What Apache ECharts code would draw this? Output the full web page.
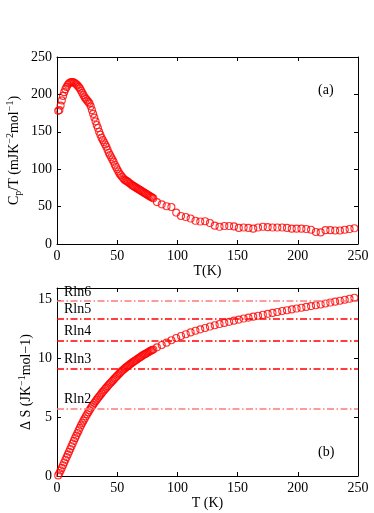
<!DOCTYPE html>
<html>
<head>
<meta charset="utf-8">
<title>Cp/T and entropy</title>
<script src="https://cdn.jsdelivr.net/npm/echarts@6.0.0/dist/echarts.min.js"></script>
<style>
  html, body { margin: 0; padding: 0; background: #fff; }
  #chart { width: 374px; height: 513px; }
</style>
</head>
<body>
<div id="chart"></div>
<script>
// temperature (K) of every measured point, dense below 80 K
const tempK = [
  1, 2, 3, 4, 5, 6, 7, 8, 9, 10, 11, 12, 13, 14, 15, 16, 17, 18, 19, 20,
  21, 22, 23, 24, 25, 26, 27, 28, 29, 30, 31, 32, 33, 34, 35, 36, 37, 38, 39, 40,
  41, 42, 43, 44, 45, 46, 47, 48, 49, 50, 51, 52, 53, 54, 55, 56, 57, 58, 59, 60,
  61, 62, 63, 64, 65, 66, 67, 68, 69, 70, 71, 72, 73, 74, 75, 76, 77, 78, 79, 80,
  83, 87, 91, 95, 99, 103, 107, 111, 115, 119, 123, 127, 131, 135, 139, 143, 147, 151, 155, 159,
  163, 167, 171, 175, 179, 183, 187, 191, 195, 199, 203, 207, 211, 215, 219, 223, 227, 231, 235, 239,
  243, 247
]
// Cp/T (mJ K^-2 mol^-1)
const cpOverT = [
  178, 179, 185, 192, 198, 203, 207, 210, 213, 215, 216, 216.5, 216.5, 216, 215, 213.5, 212, 210, 208, 205,
  202, 199, 196, 194, 192, 190, 188, 184, 179, 174, 169, 164, 159, 155, 150, 146, 142, 139, 136, 133,
  130, 126, 122, 119, 116, 113, 110, 106, 103, 100, 97, 94, 92, 90, 88, 86, 85, 84, 83, 81.5,
  80.5, 79, 78, 77, 76, 75, 74, 73, 72, 71, 70, 69, 68, 67, 66, 65, 64, 63, 62, 61,
  56, 53, 50.5, 49.5, 42, 37.5, 36, 34, 31, 30, 30.5, 28, 24.5, 23, 24, 24, 23.5, 21.5, 22, 21.5,
  20.5, 22, 23, 22.5, 22, 22, 22, 21.5, 20.5, 20.5, 20.5, 20, 19, 16, 15.5, 18.5, 18.5, 18, 18, 19,
  20, 21
]
// entropy Delta S (J K^-1 mol^-1)
const deltaS = [
  0.05, 0.25, 0.47, 0.69, 0.92, 1.15, 1.38, 1.61, 1.84, 2.07, 2.30, 2.53, 2.76, 2.99, 3.22, 3.44, 3.66, 3.88, 4.10, 4.31,
  4.51, 4.71, 4.90, 5.08, 5.26, 5.43, 5.60, 5.76, 5.91, 6.06, 6.21, 6.36, 6.50, 6.64, 6.77, 6.90, 7.03, 7.16, 7.28, 7.40,
  7.52, 7.64, 7.76, 7.87, 7.98, 8.09, 8.20, 8.31, 8.42, 8.53, 8.64, 8.75, 8.85, 8.95, 9.04, 9.13, 9.22, 9.30, 9.38, 9.46,
  9.54, 9.62, 9.69, 9.76, 9.83, 9.90, 9.97, 10.04, 10.11, 10.18, 10.25, 10.31, 10.37, 10.43, 10.49, 10.55, 10.61, 10.67, 10.72, 10.77,
  10.95, 11.15, 11.35, 11.55, 11.75, 11.92, 12.07, 12.22, 12.36, 12.48, 12.6, 12.72, 12.83, 12.93, 13.03, 13.12, 13.22, 13.31, 13.4, 13.48,
  13.56, 13.64, 13.72, 13.8, 13.88, 13.96, 14.04, 14.11, 14.18, 14.25, 14.32, 14.39, 14.46, 14.53, 14.6, 14.68, 14.76, 14.84, 14.92, 15.0,
  15.08, 15.17
]
// R ln(n) reference levels
const rlnNames = ['Rln2', 'Rln3', 'Rln4', 'Rln5', 'Rln6']
const rlnValues = [5.76, 9.13, 11.53, 13.38, 14.90]
// axis ticks
const tTicks = [0, 50, 100, 150, 200, 250]
const cpTicks = [0, 50, 100, 150, 200, 250]
const sTicks = [0, 5, 10, 15]
const sMax = 16

const FONT = 'Liberation Serif'
const RED = '#ff0000'
const PINK = '#ff7a7a'
const lightLines = ['Rln2', 'Rln6']

function axisCommon(ticks, max, extra) {
  return Object.assign({
    type: 'value',
    min: ticks[0],
    max: max,
    interval: ticks[1] - ticks[0],
    axisLine: { show: true, onZero: false, lineStyle: { color: '#000', width: 1 } },
    axisTick: { show: true, inside: true, length: 4, lineStyle: { color: '#000' } },
    splitLine: { show: false },
    axisLabel: { show: true, color: '#000', fontFamily: FONT, fontSize: 14, margin: 5 },
    nameTextStyle: { color: '#000', fontFamily: FONT, fontSize: 14 }
  }, extra)
}

function mirror(ticks, max, gridIndex, position) {
  return axisCommon(ticks, max, { gridIndex: gridIndex, position: position, axisLabel: { show: false } })
}

const pointStyle = { color: 'rgba(0,0,0,0)', borderColor: RED, borderWidth: 1.1 }

const chart = echarts.init(document.getElementById('chart'))
chart.setOption({
  animation: false,
  backgroundColor: '#fff',
  grid: [
    { left: 57, right: 16, top: 57, height: 187, outerBoundsMode: 'none', containLabel: false },
    { left: 57, right: 16, top: 288, height: 188, outerBoundsMode: 'none', containLabel: false }
  ],
  xAxis: [
    axisCommon(tTicks, tTicks[tTicks.length - 1], {
      gridIndex: 0, position: 'bottom', name: 'T(K)', nameLocation: 'middle', nameGap: 19
    }),
    mirror(tTicks, tTicks[tTicks.length - 1], 0, 'top'),
    axisCommon(tTicks, tTicks[tTicks.length - 1], {
      gridIndex: 1, position: 'bottom', name: 'T (K)', nameLocation: 'middle', nameGap: 18
    }),
    mirror(tTicks, tTicks[tTicks.length - 1], 1, 'top')
  ],
  yAxis: [
    axisCommon(cpTicks, cpTicks[cpTicks.length - 1], {
      gridIndex: 0, position: 'left', name: 'C{sub|p}/T (mJK{sup|−2}mol{sup|−1})',
      nameLocation: 'middle', nameGap: 34, nameMoveOverlap: false,
      nameTextStyle: {
        color: '#000', fontFamily: FONT, fontSize: 14, lineHeight: 18,
        rich: {
          sub: { fontFamily: FONT, fontSize: 10, lineHeight: 10, verticalAlign: 'bottom', color: '#000' },
          sup: { fontFamily: FONT, fontSize: 10, lineHeight: 10, verticalAlign: 'top', color: '#000' }
        }
      }
    }),
    mirror(cpTicks, cpTicks[cpTicks.length - 1], 0, 'right'),
    axisCommon(sTicks, sMax, {
      gridIndex: 1, position: 'left', name: 'Δ S (JK{sup|−1}mol−1)',
      nameLocation: 'middle', nameGap: 22, nameMoveOverlap: false,
      nameTextStyle: {
        color: '#000', fontFamily: FONT, fontSize: 14, lineHeight: 18,
        rich: {
          sup: { fontFamily: FONT, fontSize: 10, lineHeight: 10, verticalAlign: 'top', color: '#000' }
        }
      }
    }),
    mirror(sTicks, sMax, 1, 'right')
  ],
  graphic: [
    { type: 'text', left: 318, top: 83, style: { text: '(a)', font: '14px "Liberation Serif"', fill: '#000' } },
    { type: 'text', left: 318, top: 445, style: { text: '(b)', font: '14px "Liberation Serif"', fill: '#000' } }
  ],
  series: [
    {
      type: 'scatter',
      xAxisIndex: 0,
      yAxisIndex: 0,
      symbol: 'circle',
      symbolSize: 7,
      itemStyle: pointStyle,
      data: tempK.map((t, i) => [t, cpOverT[i]])
    },
    {
      type: 'scatter',
      xAxisIndex: 2,
      yAxisIndex: 2,
      symbol: 'circle',
      symbolSize: 7,
      itemStyle: pointStyle,
      data: tempK.map((t, i) => [t, deltaS[i]]),
      markLine: {
        silent: true,
        symbol: 'none',
        data: rlnNames.map((n, i) => ({
          name: n,
          yAxis: rlnValues[i],
          lineStyle: {
            color: lightLines.indexOf(n) >= 0 ? PINK : RED,
            width: 1.5,
            type: [7, 2.5, 1.5, 2.5],
            opacity: 1
          }
        })),
        label: {
          show: true,
          position: 'insideStartTop',
          formatter: '{b}',
          color: '#000',
          fontFamily: FONT,
          fontSize: 14,
          distance: [7, 2]
        }
      }
    }
  ]
})
</script>
</body>
</html>
